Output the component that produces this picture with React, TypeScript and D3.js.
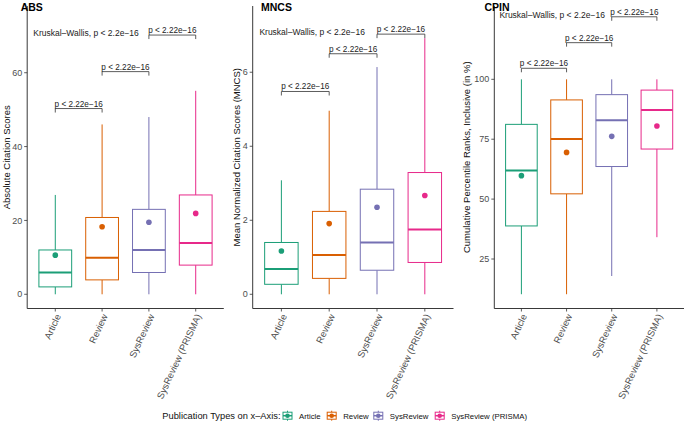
import { useEffect, useRef } from "react";
import * as d3 from "d3";

const categories = ["Article", "Review", "SysReview", "SysReview (PRISMA)"];
const colors = ["#1B9E77", "#D95F02", "#7570B3", "#E7298A"];

// ABS
const absLow = [0, 0, 0, 0];
const absQ1 = [2, 3.9, 5.9, 7.9];
const absMedian = [5.9, 9.9, 12, 13.9];
const absQ3 = [12, 20.8, 23, 26.9];
const absHigh = [26.9, 46, 48, 55.1];
const absMean = [10.6, 18.3, 19.5, 21.9];
const absBrackets = [50.3, 60.3, 70.2];
const absTicks = [0, 20, 40, 60];

// MNCS
const mncsLow = [0, 0, 0, 0];
const mncsQ1 = [0.27, 0.43, 0.65, 0.86];
const mncsMedian = [0.68, 1.06, 1.4, 1.75];
const mncsQ3 = [1.4, 2.24, 2.84, 3.29];
const mncsHigh = [3.08, 4.96, 6.14, 6.92];
const mncsMean = [1.17, 1.91, 2.35, 2.67];
const mncsBrackets = [5.48, 6.5, 7.03];
const mncsTicks = [0, 2, 4, 6];

// CPIN
const cpinLow = [10.3, 10.3, 17.9, 34.1];
const cpinQ1 = [38.8, 52.2, 63.6, 70.9];
const cpinMedian = [61.9, 75.1, 82.9, 87.2];
const cpinQ3 = [81.2, 91.4, 93.6, 95.5];
const cpinHigh = [100, 100, 100, 100];
const cpinMean = [59.8, 69.5, 76.2, 80.5];
const cpinBrackets = [104.6, 115.3, 126.1];
const cpinTicks = [25, 50, 75, 100];

const pLabel = "p < 2.22e\u221216";
const kwLabel = "Kruskal\u2013Wallis, p < 2.2e\u221216";
const legendTitle = "Publication Types on x\u2013Axis:";

const FONT = "'Liberation Sans', Arial, Helvetica, sans-serif";

const panels = [
  {
    title: "ABS", yLabel: "Absolute Citation Scores",
    low: absLow, q1: absQ1, median: absMedian, q3: absQ3, high: absHigh, mean: absMean,
    brackets: absBrackets, ticks: absTicks, domain: [-3.85, 78.07],
    x0: 27.2, x1: 223.8, titleX: 20.7, yLabelX: 9.5, kwDy: 0.5,
  },
  {
    title: "MNCS", yLabel: "Mean Normalized Citation Scores (MNCS)",
    low: mncsLow, q1: mncsQ1, median: mncsMedian, q3: mncsQ3, high: mncsHigh, mean: mncsMean,
    brackets: mncsBrackets, ticks: mncsTicks, domain: [-0.384, 7.79],
    x0: 252.7, x1: 453.5, titleX: 261, yLabelX: 240, kwDy: 0.5,
  },
  {
    title: "CPIN", yLabel: "Cumulative Percentile Ranks, Inclusive (in %)",
    low: cpinLow, q1: cpinQ1, median: cpinMedian, q3: cpinQ3, high: cpinHigh, mean: cpinMean,
    brackets: cpinBrackets, ticks: cpinTicks, domain: [4.34, 130.6],
    x0: 494.3, x1: 684, titleX: 484.5, yLabelX: 470, kwDy: 1.5,
  },
];

export default function App() {
  const svgRef = useRef<SVGSVGElement>(null);

  useEffect(() => {
    if (!svgRef.current) return;
    const svg = d3.select(svgRef.current);
    svg.selectAll("*").remove();

    const top = 6;
    const bottom = 308.5;

    panels.forEach((p) => {
      const g = svg.append("g");
      const x = d3.scalePoint<string>().domain(categories).range([p.x0, p.x1]).padding(0.6);
      const y = d3.scaleLinear().domain(p.domain).range([bottom, top]);
      const bw = x.step() * 0.7;

      // axes
      g.append("line").attr("x1", p.x0).attr("x2", p.x0).attr("y1", top).attr("y2", bottom)
        .attr("stroke", "#222").attr("stroke-width", 0.9);
      g.append("line").attr("x1", p.x0).attr("x2", p.x1).attr("y1", bottom).attr("y2", bottom)
        .attr("stroke", "#222").attr("stroke-width", 0.9);

      p.ticks.forEach((t) => {
        g.append("line").attr("x1", p.x0 - 3).attr("x2", p.x0).attr("y1", y(t)).attr("y2", y(t))
          .attr("stroke", "#333").attr("stroke-width", 0.8);
        g.append("text").attr("x", p.x0 - 5).attr("y", y(t)).attr("dy", "0.35em")
          .attr("text-anchor", "end").attr("font-size", 9).attr("fill", "#4D4D4D")
          .attr("font-family", FONT).text(t);
      });

      categories.forEach((c) => {
        const cx = x(c)!;
        g.append("line").attr("x1", cx).attr("x2", cx).attr("y1", bottom).attr("y2", bottom + 3)
          .attr("stroke", "#333").attr("stroke-width", 0.8);
        g.append("text")
          .attr("transform", `translate(${cx + 0.5},${bottom + 5}) rotate(-65)`)
          .attr("dy", "0.62em").attr("text-anchor", "end").attr("font-size", 9.5)
          .attr("fill", "#4D4D4D").attr("font-family", FONT).text(c);
      });

      // y label
      g.append("text")
        .attr("transform", `translate(${p.yLabelX},${(top + bottom) / 2}) rotate(-90)`)
        .attr("text-anchor", "middle").attr("font-size", 9.5).attr("fill", "#111")
        .attr("font-family", FONT).text(p.yLabel);

      // boxes
      categories.forEach((c, i) => {
        const cx = x(c)!;
        const col = colors[i];
        g.append("line").attr("x1", cx).attr("x2", cx).attr("y1", y(p.low[i])).attr("y2", y(p.q1[i]))
          .attr("stroke", col).attr("stroke-width", 1);
        g.append("line").attr("x1", cx).attr("x2", cx).attr("y1", y(p.q3[i])).attr("y2", y(p.high[i]))
          .attr("stroke", col).attr("stroke-width", 1);
        g.append("rect").attr("x", cx - bw / 2).attr("width", bw)
          .attr("y", y(p.q3[i])).attr("height", y(p.q1[i]) - y(p.q3[i]))
          .attr("fill", "white").attr("stroke", col).attr("stroke-width", 1);
        g.append("line").attr("x1", cx - bw / 2).attr("x2", cx + bw / 2)
          .attr("y1", y(p.median[i])).attr("y2", y(p.median[i]))
          .attr("stroke", col).attr("stroke-width", 2);
        g.append("circle").attr("cx", cx).attr("cy", y(p.mean[i])).attr("r", 2.8).attr("fill", col);
      });

      // pairwise brackets
      p.brackets.forEach((b, i) => {
        const xa = x(categories[i])!;
        const xb = x(categories[i + 1])!;
        const by = y(b);
        g.append("path").attr("d", `M${xa},${by + 4}V${by}H${xb}V${by + 4}`)
          .attr("fill", "none").attr("stroke", "#333").attr("stroke-width", 0.8);
        g.append("text").attr("x", (xa + xb) / 2).attr("y", by - 2)
          .attr("text-anchor", "middle").attr("font-size", 8.2).attr("fill", "#222")
          .attr("font-family", FONT).text(pLabel);
      });

      g.append("text").attr("x", x(categories[0])! - 22)
        .attr("y", y(p.brackets[2]) + p.kwDy)
        .attr("font-size", 8.5).attr("fill", "#222").attr("font-family", FONT).text(kwLabel);

      g.append("text").attr("x", p.titleX).attr("y", 10.5).attr("font-size", 10.5)
        .attr("font-weight", "bold").attr("fill", "#000").attr("font-family", FONT).text(p.title);
    });

    // legend
    const lg = svg.append("g");
    const ly = 415.7;
    lg.append("text").attr("x", 162.3).attr("y", ly + 3.2).attr("font-size", 9.3)
      .attr("fill", "#111").attr("font-family", FONT).text(legendTitle);
    const keyX = [287.5, 331.7, 378.3, 439.7];
    categories.forEach((c, i) => {
      const kx = keyX[i];
      const col = colors[i];
      lg.append("line").attr("x1", kx).attr("x2", kx).attr("y1", ly - 5).attr("y2", ly + 5)
        .attr("stroke", col).attr("stroke-width", 1);
      lg.append("rect").attr("x", kx - 4.5).attr("y", ly - 3.5).attr("width", 9).attr("height", 7)
        .attr("fill", "white").attr("stroke", col).attr("stroke-width", 1);
      lg.append("line").attr("x1", kx - 4.5).attr("x2", kx + 4.5).attr("y1", ly).attr("y2", ly)
        .attr("stroke", col).attr("stroke-width", 1.5);
      lg.append("circle").attr("cx", kx).attr("cy", ly).attr("r", 2.3).attr("fill", col);
      lg.append("text").attr("x", kx + 11.5).attr("y", ly + 2.8).attr("font-size", 7.8)
        .attr("fill", "#111").attr("font-family", FONT).text(c);
    });
  }, []);

  return (
    <svg
      ref={svgRef}
      width={685}
      height={421}
      style={{ position: "absolute", left: 0, top: 0, background: "white" }}
    />
  );
}
